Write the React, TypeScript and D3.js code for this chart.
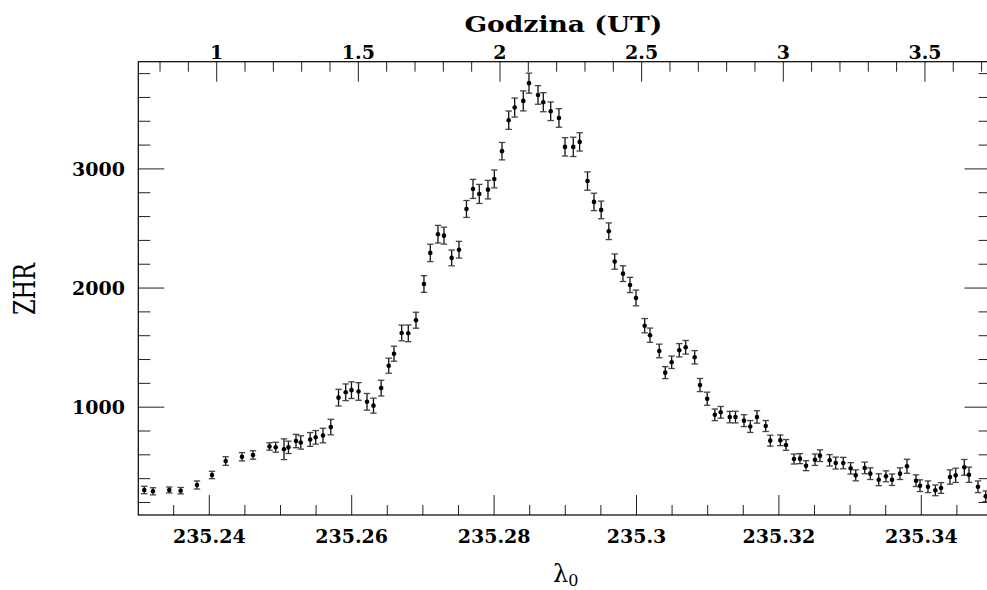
import React from 'react';
import * as d3 from 'd3';

// solar longitude of each interval (deg)
const lambda = [
  235.23087, 235.23209, 235.23438, 235.23598, 235.23827, 235.24038, 235.2423, 235.24459, 235.24614, 235.24846,
  235.24933, 235.25049, 235.25112, 235.25218, 235.25285, 235.25417, 235.25494, 235.25597, 235.25706, 235.25815,
  235.25916, 235.25997, 235.26096, 235.26215, 235.26306, 235.26414, 235.2652, 235.26594, 235.26702, 235.26795,
  235.26903, 235.27015, 235.27104, 235.27212, 235.27296, 235.27404, 235.27507, 235.27612, 235.27704, 235.27792,
  235.27914, 235.28003, 235.28111, 235.28205, 235.28289, 235.2841, 235.2849, 235.28617, 235.28691, 235.28795,
  235.28911, 235.28996, 235.29112, 235.29202, 235.29312, 235.29403, 235.29504, 235.29611, 235.29694, 235.2981,
  235.29909, 235.29993, 235.30115, 235.3019, 235.3032, 235.30404, 235.30494, 235.30601, 235.30691, 235.30817,
  235.30892, 235.30993, 235.311, 235.31183, 235.3131, 235.3139, 235.3151, 235.31598, 235.31692, 235.31815,
  235.31879, 235.3202, 235.321, 235.32212, 235.32296, 235.32381, 235.32507, 235.32577, 235.32713, 235.32798,
  235.32904, 235.33008, 235.33079, 235.33205, 235.33284, 235.33402, 235.33504, 235.33589, 235.33701, 235.33799,
  235.33926, 235.33982, 235.34094, 235.34197, 235.34277, 235.34403, 235.34483, 235.34604, 235.3467, 235.34796,
  235.34905,
];

const zhr = [
  305, 294, 305, 299, 347, 431, 548, 584, 599, 670,
  664, 647, 663, 716, 704, 729, 747, 762, 833, 1080,
  1125, 1143, 1132, 1045, 1013, 1160, 1348, 1449, 1623, 1620,
  1730, 2034, 2295, 2452, 2440, 2253, 2322, 2664, 2832, 2790,
  2826, 2916, 3149, 3409, 3515, 3571, 3720, 3621, 3560, 3484,
  3428, 3185, 3185, 3227, 2898, 2723, 2656, 2477, 2222, 2121,
  2026, 1917, 1684, 1604, 1472, 1290, 1377, 1478, 1503, 1419,
  1186, 1071, 936, 957, 917, 917, 887, 838, 918, 842,
  719, 722, 683, 565, 568, 509, 559, 593, 554, 531,
  531, 487, 428, 490, 442, 391, 420, 391, 442, 504,
  383, 341, 332, 302, 322, 414, 428, 495, 433, 332, 252,
];

const zhrErr = [
  31, 30, 25, 27, 34, 31, 36, 35, 35, 31,
  42, 87, 52, 56, 56, 58, 57, 61, 65, 70,
  70, 70, 74, 70, 63, 66, 63, 63, 66, 70,
  67, 70, 73, 74, 71, 66, 70, 71, 80, 80,
  78, 75, 73, 77, 80, 84, 84, 78, 80, 78,
  78, 77, 81, 77, 77, 73, 74, 70, 64, 66,
  64, 66, 60, 60, 57, 50, 52, 56, 57, 56,
  55, 55, 49, 49, 48, 49, 50, 50, 52, 46,
  46, 45, 45, 42, 42, 42, 48, 49, 48, 50,
  48, 48, 46, 49, 49, 50, 46, 48, 49, 59,
  49, 49, 49, 45, 45, 60, 60, 66, 64, 49, 45,
];

const lambdaTicks = [235.24, 235.26, 235.28, 235.3, 235.32, 235.34];
const hourTicks = [1, 1.5, 2, 2.5, 3, 3.5];
const zhrTicks = [1000, 2000, 3000];

const W = 987;
const H = 590;
const plot = { left: 138.3, right: 990.5, top: 61.7, bottom: 515 };

const font = '"DejaVu Serif", serif';

export default function App() {
  const x = d3.scaleLinear().domain([235.23003, 235.34972]).range([plot.left, plot.right]);
  const xTop = d3.scaleLinear().domain([0.7233, 3.7314]).range([plot.left, plot.right]);
  const y = d3.scaleLinear().domain([95, 3900]).range([plot.bottom, plot.top]);

  // minor ticks
  const lambdaMinor = d3.range(235.235, 235.3495, 0.005).map(v => +v.toFixed(3));
  const hourMinor = d3.range(0.8, 3.72, 0.1).map(v => +v.toFixed(1));
  const zhrMinor = d3.range(200, 3900, 200);

  const isMajor = (v: number, list: number[]) => list.some(t => Math.abs(t - v) < 1e-6);

  const points = lambda.map((l, i) => ({ l, z: zhr[i], e: zhrErr[i] }));

  return (
    <svg width={W} height={H} style={{ position: 'absolute', left: 0, top: 0, background: '#fff' }}>
      <g stroke="#222" strokeWidth={1}>
        {lambdaMinor.map(v => {
          const len = isMajor(v, lambdaTicks) ? 20 : 10;
          return <line key={'b' + v} x1={x(v)} x2={x(v)} y1={plot.bottom} y2={plot.bottom - len} />;
        })}
        {hourMinor.map(v => {
          const len = isMajor(v, hourTicks) ? 20 : 10;
          return <line key={'t' + v} x1={xTop(v)} x2={xTop(v)} y1={plot.top} y2={plot.top + len} />;
        })}
        {zhrMinor.map(v => {
          const len = isMajor(v, zhrTicks) ? 26 : 12;
          return (
            <g key={'y' + v}>
              <line x1={plot.left} x2={plot.left + len} y1={y(v)} y2={y(v)} />
              <line x1={plot.right} x2={plot.right - len} y1={y(v)} y2={y(v)} />
            </g>
          );
        })}
      </g>

      <rect x={plot.left} y={plot.top} width={plot.right - plot.left} height={plot.bottom - plot.top}
        fill="none" stroke="#000" strokeWidth={1.2} />

      {/* error bars and points */}
      <g stroke="#111" strokeWidth={1.3}>
        {points.map((d, i) => {
          const cx = x(d.l);
          const y1 = y(d.z - d.e);
          const y2 = y(d.z + d.e);
          return (
            <g key={i}>
              <line x1={cx} x2={cx} y1={y1} y2={y2} />
              <line x1={cx - 3.2} x2={cx + 3.2} y1={y1} y2={y1} stroke="#444" />
              <line x1={cx - 3.2} x2={cx + 3.2} y1={y2} y2={y2} stroke="#444" />
            </g>
          );
        })}
      </g>
      <g fill="#000">
        {points.map((d, i) => (
          <circle key={i} cx={x(d.l)} cy={y(d.z)} r={2.3} />
        ))}
      </g>

      {/* tick labels */}
      <g fontFamily={font} fontWeight="bold" fontSize={19} fill="#000">
        {lambdaTicks.map(v => (
          <text key={'bl' + v} x={x(v)} y={543} textAnchor="middle">{d3.format('')(v)}</text>
        ))}
        {hourTicks.map(v => (
          <text key={'tl' + v} x={xTop(v)} y={59} textAnchor="middle">{String(v)}</text>
        ))}
        {zhrTicks.map(v => (
          <text key={'yl' + v} x={125} y={y(v) + 7} textAnchor="end">{String(v)}</text>
        ))}
      </g>

      {/* axis titles */}
      <text x={(plot.left + plot.right) / 2 - 1} y={32} textAnchor="middle" fontFamily={font}
        fontWeight="bold" fontSize={22} textLength={198} lengthAdjust="spacingAndGlyphs">Godzina (UT)</text>
      <text transform="translate(35,289) rotate(-90)" textAnchor="middle" fontFamily={font}
        fontSize={29} textLength={52} lengthAdjust="spacingAndGlyphs">ZHR</text>
      <text x={553} y={582} fontFamily={font} fontSize={24}>
        λ<tspan fontSize={16} dy={4}>0</tspan>
      </text>
    </svg>
  );
}
